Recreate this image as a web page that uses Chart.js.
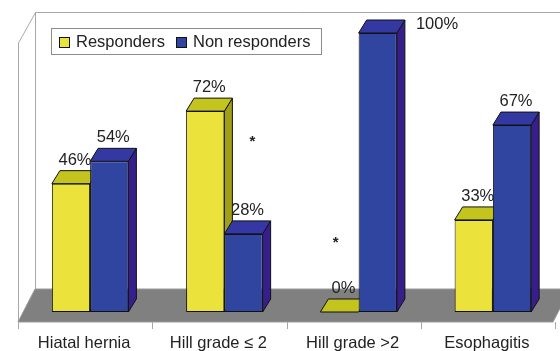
<!DOCTYPE html>
<html>
<head>
<meta charset="utf-8">
<script src="https://cdn.jsdelivr.net/npm/chart.js@4/dist/chart.umd.min.js"></script>
<style>
  html, body { margin: 0; padding: 0; background: #fff; }
  canvas { display: block; }
</style>
</head>
<body>
<canvas id="refluxChart" width="560" height="351"></canvas>
<script>
// Categories and percentages per group
const categories = ["Hiatal hernia", "Hill grade \u2264 2", "Hill grade >2", "Esophagitis"];
const responders = [46, 72, 0, 33];
const nonResponders = [54, 28, 100, 67];
const seriesNames = ["Responders", "Non responders"];

// Significance stars: category index, height in % and horizontal shift from the category centre
const stars = [
  { index: 1, value: 62, dx: 28 },
  { index: 2, value: 26, dx: -23 }
];

const FONT = "16.5px 'Liberation Sans', Arial, sans-serif";
const DEPTH = { dx: 8, dy: -13 };        // bar extrusion
const FLOOR = { dx: 17, dy: -33, drop: 10 }; // floor depth, front edge below bar base

const palette = [
  { front: "#ECE23C", top: "#C4C41E", side: "#A0A016" },
  { front: "#2F45A0", top: "#3438A2", side: "#361F8A" }
];

function face(ctx, pts, fill) {
  ctx.beginPath();
  ctx.moveTo(pts[0][0], pts[0][1]);
  for (let i = 1; i < pts.length; i++) ctx.lineTo(pts[i][0], pts[i][1]);
  ctx.closePath();
  ctx.fillStyle = fill;
  ctx.fill();
  ctx.stroke();
}

// Walls, floor and the top/side faces of every bar (front faces come from Chart.js)
const box3d = {
  id: "box3d",
  beforeDatasetsDraw(chart) {
    const { ctx, chartArea, scales } = chart;
    const base = scales.y.getPixelForValue(0);
    const frontY = base + FLOOR.drop;
    const step = scales.x.width / categories.length;
    const left = chartArea.left - 5;
    const right = left + step * categories.length - 2;
    const wallTop = 12;

    ctx.save();
    ctx.lineWidth = 1;
    // back and side walls
    ctx.strokeStyle = "#A8A8A8";
    ctx.beginPath();
    ctx.moveTo(left + 0.5, frontY);
    ctx.lineTo(left + 0.5, wallTop + 31);
    ctx.lineTo(left + FLOOR.dx + 0.5, wallTop + 0.5);
    ctx.lineTo(chart.width, wallTop + 0.5);
    ctx.moveTo(left + FLOOR.dx + 0.5, wallTop);
    ctx.lineTo(left + FLOOR.dx + 0.5, frontY + FLOOR.dy);
    ctx.stroke();

    // floor
    ctx.strokeStyle = "#9A9A9A";
    face(ctx, [
      [left, frontY], [right, frontY],
      [right + FLOOR.dx, frontY + FLOOR.dy], [left + FLOOR.dx, frontY + FLOOR.dy]
    ], "#808080");

    // tick marks below the floor
    ctx.strokeStyle = "#A8A8A8";
    ctx.beginPath();
    for (let i = 0; i <= categories.length; i++) {
      const x = Math.round(left + step * i) + 0.5;
      ctx.moveTo(x, frontY);
      ctx.lineTo(x, frontY + 7);
    }
    ctx.stroke();

    // extruded faces, category by category so later bars overlap earlier ones
    ctx.strokeStyle = "#111";
    categories.forEach((_, i) => {
      chart.data.datasets.forEach((ds, d) => {
        const bar = chart.getDatasetMeta(d).data[i];
        const x0 = bar.x - bar.width / 2;
        const x1 = bar.x + bar.width / 2;
        const top = bar.y;
        const c = palette[d];
        face(ctx, [[x1, bar.base], [x1 + DEPTH.dx, bar.base + DEPTH.dy],
          [x1 + DEPTH.dx, top + DEPTH.dy], [x1, top]], c.side);
        face(ctx, [[x0, top], [x1, top],
          [x1 + DEPTH.dx, top + DEPTH.dy], [x0 + DEPTH.dx, top + DEPTH.dy]], c.top);
      });
    });
    ctx.restore();
  },

  afterDatasetsDraw(chart) {
    const { ctx, scales } = chart;
    const step = scales.x.width / categories.length;
    ctx.save();
    ctx.font = FONT;
    ctx.fillStyle = "#222";

    // value labels above each bar
    chart.data.datasets.forEach((ds, d) => {
      chart.getDatasetMeta(d).data.forEach((bar, i) => {
        const text = ds.data[i] + "%";
        const backTop = bar.y + DEPTH.dy;
        if (backTop - 20 < 12) {
          ctx.textAlign = "left";
          ctx.textBaseline = "middle";
          ctx.fillText(text, bar.x + bar.width / 2 + DEPTH.dx + 11, backTop + 4);
        } else {
          ctx.textAlign = "center";
          ctx.textBaseline = "alphabetic";
          ctx.fillText(text, bar.x + 4, backTop - 6);
        }
      });
    });

    // significance stars
    ctx.textAlign = "center";
    ctx.textBaseline = "middle";
    ctx.font = "bold 15px 'Liberation Sans', Arial, sans-serif";
    stars.forEach(s => {
      ctx.fillText("*", scales.x.getPixelForValue(s.index) + s.dx,
        scales.y.getPixelForValue(s.value) + 3);
    });

    // category labels under the floor
    ctx.font = FONT;
    ctx.textBaseline = "alphabetic";
    categories.forEach((label, i) => {
      ctx.fillText(label, scales.x.getPixelForValue(i) - 6, 348);
    });

    // legend box
    ctx.strokeStyle = "#8C8C8C";
    ctx.lineWidth = 1;
    ctx.strokeRect(51.5, 28.5, 270, 26);
    ctx.textAlign = "left";
    ctx.textBaseline = "middle";
    const legendX = [59, 176];
    seriesNames.forEach((name, d) => {
      ctx.fillStyle = palette[d].front;
      ctx.strokeStyle = "#111";
      ctx.fillRect(legendX[d] + 0.5, 37.5, 10, 10);
      ctx.strokeRect(legendX[d] + 0.5, 37.5, 10, 10);
      ctx.fillStyle = "#222";
      ctx.fillText(name, legendX[d] + 17, 42);
    });
    ctx.restore();
  }
};

new Chart(document.getElementById("refluxChart"), {
  type: "bar",
  data: {
    labels: categories,
    datasets: [
      {
        label: seriesNames[0],
        data: responders,
        backgroundColor: palette[0].front
      },
      {
        label: seriesNames[1],
        data: nonResponders,
        backgroundColor: palette[1].front
      }
    ]
  },
  options: {
    responsive: false,
    animation: false,
    devicePixelRatio: 1,
    layout: { padding: { left: 23, right: 0, top: 33, bottom: 39 } },
    datasets: {
      bar: {
        borderColor: "#111",
        borderWidth: 1,
        borderSkipped: false,
        categoryPercentage: 0.57,
        barPercentage: 1.0
      }
    },
    plugins: {
      legend: { display: false },
      tooltip: { enabled: false }
    },
    scales: {
      x: { display: false },
      y: { display: false, min: 0, max: 100 }
    }
  },
  plugins: [box3d]
});
</script>
</body>
</html>
